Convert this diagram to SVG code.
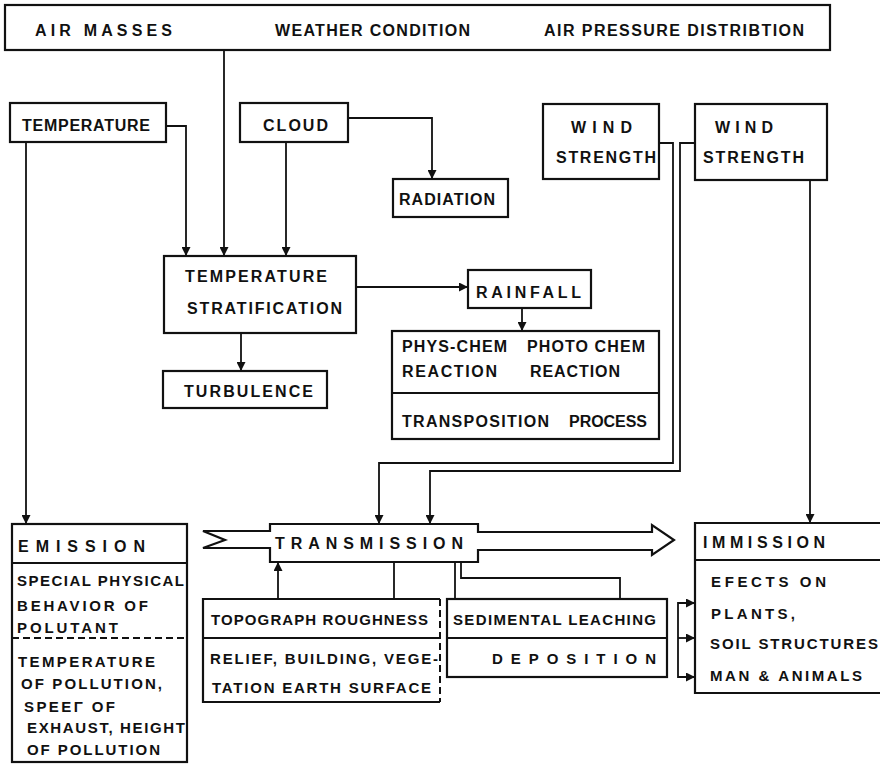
<svg xmlns="http://www.w3.org/2000/svg" width="880" height="765" viewBox="0 0 880 765">
<style>
rect, .box { fill: none; stroke: #111; stroke-width: 2.2; }
.div { stroke: #111; stroke-width: 2; fill: none; }
.dash { stroke: #111; stroke-width: 2; stroke-dasharray: 7 4; fill: none; }
text { font-family: "Liberation Sans", Arial, sans-serif; font-weight: 700; font-size: 16px; fill: #111; }
.s { font-size: 15px; }
.c line, .c polyline { stroke: #111; stroke-width: 1.8; fill: none; }
</style>
<defs>
<marker id="ah" viewBox="0 0 10 10" refX="10" refY="5" markerWidth="10" markerHeight="9" orient="auto" markerUnits="userSpaceOnUse">
<path d="M0,0 L10,5 L0,10 z" fill="#111"/>
</marker>
</defs>
<rect width="880" height="765" fill="#fff" style="stroke:none"/>

<g id="top">
<rect x="5" y="5" width="825" height="45"/>
<text x="35" y="36" textLength="137" lengthAdjust="spacing">AIR  MASSES</text>
<text x="275" y="36" textLength="195" lengthAdjust="spacing">WEATHER  CONDITION</text>
<text x="544" y="36" textLength="260" lengthAdjust="spacing">AIR PRESSURE  DISTRIBTION</text>
</g>

<g id="temperature">
<rect x="10" y="103" width="156" height="39"/>
<text x="22" y="131" textLength="128" lengthAdjust="spacing">TEMPERATURE</text>
</g>

<g id="cloud">
<rect x="240" y="103" width="108" height="39"/>
<text x="263" y="131" textLength="65" lengthAdjust="spacing">CLOUD</text>
</g>

<g id="radiation">
<rect x="393" y="179" width="115" height="38"/>
<text x="399" y="205" textLength="96" lengthAdjust="spacing">RADIATION</text>
</g>

<g id="wind1">
<rect x="543" y="104" width="116" height="75"/>
<text x="571" y="133" textLength="61" lengthAdjust="spacing">WIND</text>
<text x="556" y="163" textLength="100" lengthAdjust="spacing">STRENGTH</text>
</g>

<g id="wind2">
<rect x="695" y="104" width="132" height="76"/>
<text x="715" y="133" textLength="58" lengthAdjust="spacing">WIND</text>
<text x="703" y="163" textLength="101" lengthAdjust="spacing">STRENGTH</text>
</g>

<g id="stratification">
<rect x="164" y="256" width="192" height="77"/>
<text x="185" y="282" textLength="142" lengthAdjust="spacing">TEMPERATURE</text>
<text x="187" y="314" textLength="155" lengthAdjust="spacing">STRATIFICATION</text>
</g>

<g id="turbulence">
<rect x="163" y="371" width="164" height="37"/>
<text x="184" y="397" textLength="129" lengthAdjust="spacing">TURBULENCE</text>
</g>

<g id="rainfall">
<rect x="468" y="270" width="123" height="38"/>
<text x="476" y="298" textLength="105" lengthAdjust="spacing">RAINFALL</text>
</g>

<g id="reactions">
<rect x="392" y="331" width="267" height="108"/>
<line class="div" x1="392" y1="393" x2="659" y2="393"/>
<text x="402" y="352" textLength="105" lengthAdjust="spacing">PHYS-CHEM</text>
<text x="527" y="352" textLength="118" lengthAdjust="spacing">PHOTO CHEM</text>
<text x="402" y="377" textLength="95" lengthAdjust="spacing">REACTION</text>
<text x="530" y="377" textLength="90" lengthAdjust="spacing">REACTION</text>
<text x="402" y="427" textLength="147" lengthAdjust="spacing">TRANSPOSITION</text>
<text x="569" y="427" textLength="78" lengthAdjust="spacing">PROCESS</text>
</g>

<g id="emission">
<rect x="12" y="524" width="175" height="238"/>
<line class="div" x1="12" y1="563" x2="187" y2="563"/>
<line class="dash" x1="12" y1="638" x2="187" y2="638"/>
<text x="18" y="552" textLength="127" lengthAdjust="spacing">EMISSION</text>
<text class="s" x="17" y="586" textLength="167" lengthAdjust="spacing">SPECIAL PHYSICAL</text>
<text class="s" x="17" y="611" textLength="131" lengthAdjust="spacing">BEHAVIOR  OF</text>
<text class="s" x="17" y="633" textLength="101" lengthAdjust="spacing">POLUTANT</text>
<text class="s" x="18" y="667" textLength="137" lengthAdjust="spacing">TEMPERATURE</text>
<text class="s" x="21" y="689" textLength="141" lengthAdjust="spacing">OF POLLUTION,</text>
<text class="s" x="24" y="712" textLength="91" lengthAdjust="spacing">SPEEΓ  OF</text>
<text class="s" x="27" y="733" textLength="158" lengthAdjust="spacing">EXHAUST, HEIGHT</text>
<text class="s" x="27" y="755" textLength="133" lengthAdjust="spacing">OF POLLUTION</text>
</g>

<g id="transmission">
<path class="box" d="M203,531 L270,531 L270,524 L478,524 L478,532 L652,532 L652,525 L674,540 L652,555 L652,550 L478,550 L478,562 L270,562 L270,548 L203,548 L225,540 Z"/>
<text x="275" y="549" textLength="188" lengthAdjust="spacing">TRANSMISSION</text>
</g>

<g id="topograph">
<path class="box" d="M440,599 L203,599 L203,702 L440,702"/>
<line class="dash" x1="440" y1="599" x2="440" y2="702"/>
<line class="div" x1="203" y1="638" x2="440" y2="638"/>
<text class="s" x="211" y="625" textLength="217" lengthAdjust="spacing">TOPOGRAPH ROUGHNESS</text>
<text class="s" x="210" y="664" textLength="228" lengthAdjust="spacing">RELIEF, BUILDING, VEGE-</text>
<text class="s" x="212" y="693" textLength="219" lengthAdjust="spacing">TATION  EARTH  SURFACE</text>
</g>

<g id="sedimental">
<rect x="447" y="599" width="220" height="78"/>
<line class="div" x1="447" y1="638" x2="667" y2="638"/>
<text class="s" x="453" y="625" textLength="203" lengthAdjust="spacing">SEDIMENTAL LEACHING</text>
<text class="s" x="492" y="664" textLength="164" lengthAdjust="spacing">DEPOSITION</text>
</g>

<g id="immission">
<path class="box" d="M884,523 L695,523 L695,693 L884,693"/>
<line class="div" x1="695" y1="560" x2="884" y2="560"/>
<text x="703" y="548" textLength="122" lengthAdjust="spacing">IMMISSION</text>
<text class="s" x="711" y="587" textLength="115" lengthAdjust="spacing">EFECTS  ON</text>
<text class="s" x="711" y="619" textLength="84" lengthAdjust="spacing">PLANTS,</text>
<text class="s" x="710" y="649" textLength="168" lengthAdjust="spacing">SOIL STRUCTURES</text>
<text class="s" x="710" y="681" textLength="152" lengthAdjust="spacing">MAN &amp; ANIMALS</text>
</g>

<g id="connectors" class="c">
<line x1="224" y1="50" x2="224" y2="256" marker-end="url(#ah)"/>
<polyline points="166,126 186,126 186,256" marker-end="url(#ah)"/>
<line x1="286" y1="142" x2="286" y2="256" marker-end="url(#ah)"/>
<polyline points="348,118 432,118 432,179" marker-end="url(#ah)"/>
<line x1="26" y1="142" x2="26" y2="524" marker-end="url(#ah)"/>
<line x1="241" y1="333" x2="241" y2="371" marker-end="url(#ah)"/>
<line x1="356" y1="287" x2="468" y2="287" marker-end="url(#ah)"/>
<line x1="522" y1="308" x2="522" y2="331" marker-end="url(#ah)"/>
<polyline points="659,143 673,143 673,463 379,463 379,524" marker-end="url(#ah)"/>
<polyline points="695,143 680,143 680,471 430,471 430,524" marker-end="url(#ah)"/>
<line x1="810" y1="180" x2="810" y2="523" marker-end="url(#ah)"/>
<line x1="278" y1="599" x2="278" y2="562" marker-end="url(#ah)"/>
<line x1="394" y1="562" x2="394" y2="599"/>
<line x1="455" y1="562" x2="455" y2="599"/>
<polyline points="461,562 461,578 620,578 620,599"/>
<polyline points="695,603 678,603 678,677 695,677" />
<line x1="678" y1="603" x2="695" y2="603" marker-end="url(#ah)"/>
<line x1="678" y1="638" x2="695" y2="638" marker-end="url(#ah)"/>
<line x1="678" y1="677" x2="695" y2="677" marker-end="url(#ah)"/>
</g>
</svg>
